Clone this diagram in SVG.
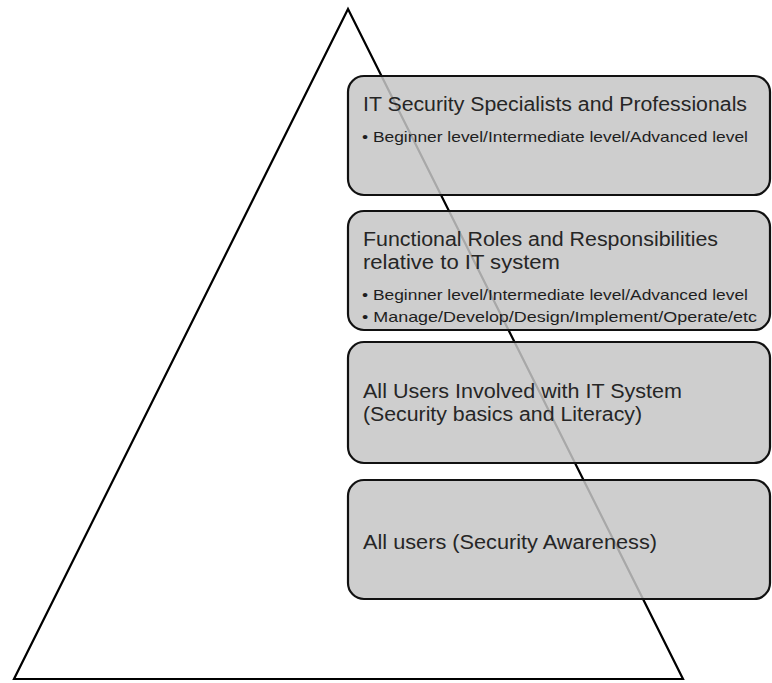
<svg xmlns="http://www.w3.org/2000/svg" width="772" height="683" viewBox="0 0 772 683">
<style>
.tri{fill:none;stroke:#000;stroke-width:2.2;stroke-linejoin:miter}
.box{fill:#c6c6c6;fill-opacity:0.85;stroke:#111;stroke-width:2.2}
.t{font-family:"Liberation Sans",Arial,sans-serif;font-size:19.5px;fill:#262626}
.b{font-family:"Liberation Sans",Arial,sans-serif;font-size:14.5px;fill:#1e1e1e}
</style>
<rect width="772" height="683" fill="#fff"/>
<g id="connectors">
<polygon class="tri" points="348,9 14,679 683,679"/>
</g>
<g id="node-specialists">
<rect class="box" x="348" y="76" width="422" height="119" rx="16"/>
<text class="t" x="363" y="111" textLength="384" lengthAdjust="spacingAndGlyphs">IT Security Specialists and Professionals</text>
<text class="b" x="362" y="142" textLength="386" lengthAdjust="spacingAndGlyphs">• Beginner level/Intermediate level/Advanced level</text>
</g>
<g id="node-functional">
<rect class="box" x="348" y="211" width="422" height="119" rx="16"/>
<text class="t" x="363" y="246" textLength="355" lengthAdjust="spacingAndGlyphs">Functional Roles and Responsibilities</text>
<text class="t" x="363" y="269" textLength="197" lengthAdjust="spacingAndGlyphs">relative to IT system</text>
<text class="b" x="362" y="300" textLength="386" lengthAdjust="spacingAndGlyphs">• Beginner level/Intermediate level/Advanced level</text>
<text class="b" x="362" y="322" textLength="395" lengthAdjust="spacingAndGlyphs">• Manage/Develop/Design/Implement/Operate/etc</text>
</g>
<g id="node-all-involved">
<rect class="box" x="348" y="342" width="422" height="121" rx="16"/>
<text class="t" x="363" y="398" textLength="319" lengthAdjust="spacingAndGlyphs">All Users Involved with IT System</text>
<text class="t" x="363" y="421" textLength="279" lengthAdjust="spacingAndGlyphs">(Security basics and Literacy)</text>
</g>
<g id="node-all-users">
<rect class="box" x="348" y="480" width="422" height="119" rx="16"/>
<text class="t" x="363" y="549" textLength="294" lengthAdjust="spacingAndGlyphs">All users (Security Awareness)</text>
</g>
</svg>
